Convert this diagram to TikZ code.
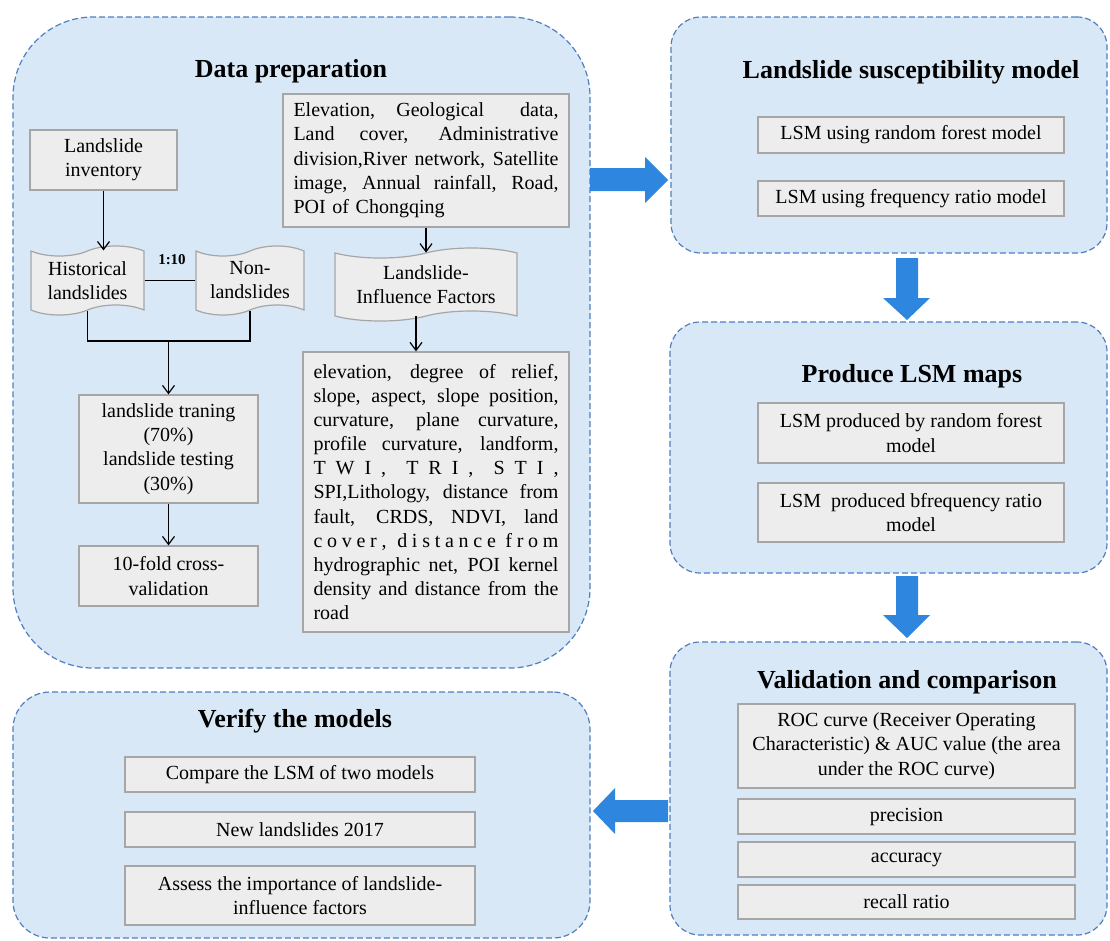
\documentclass[tikz,border=0pt]{standalone}
\usepackage{fontspec}
\setmainfont{Liberation Serif}
\usetikzlibrary{shapes.symbols,arrows.meta}
\definecolor{bigfill}{HTML}{D9E8F7}
\definecolor{bigline}{HTML}{4F7FBF}
\definecolor{boxfill}{HTML}{EDEDED}
\definecolor{boxline}{HTML}{A6A6A6}
\definecolor{barrow}{HTML}{2E86DE}
\newcommand\jline[2]{\makebox[#1][s]{\spaceskip=.25em plus 1fil\relax #2}}
\newcommand\sline[2]{\makebox[#1][s]{\spaceskip=0pt plus 1fil\relax #2}}
\tikzset{
 panel/.style={draw=bigline, fill=bigfill, line width=1.2pt, dash pattern=on 6pt off 3pt, inner sep=0pt},
 ptitle/.style={font=\fontsize{26}{30}\selectfont\bfseries, anchor=base, inner sep=0pt},
 ibox/.style={draw=boxline, fill=boxfill, line width=1.2pt, align=center, font=\fontsize{20}{24.3}\selectfont, inner sep=0pt},
 doc/.style={tape, draw=boxline, fill=boxfill, line width=1.2pt, align=center, font=\fontsize{20}{24}\selectfont, inner sep=0pt, tape bend height=10pt},
 arr/.style={-{Straight Barb[length=8pt,width=12pt]}, line width=1.2pt},
 link/.style={line width=1.6pt},
 blk/.style={fill=barrow, draw=none},
}
\begin{document}
\begin{tikzpicture}[x=1pt,y=-1pt]
\useasboundingbox (0,0) rectangle (1110,940);
\fill[white] (0,0) rectangle (1110,940);
% panels
\node[panel, rounded corners=80pt, minimum width=577pt, minimum height=651pt] (dp) at (301.5,342.5) {};
\node[panel, rounded corners=30pt, minimum width=436pt, minimum height=236pt] (lsm) at (889,135) {};
\node[panel, rounded corners=30pt, minimum width=437pt, minimum height=251pt] (prod) at (888.5,447.5) {};
\node[panel, rounded corners=30pt, minimum width=437pt, minimum height=293pt] (val) at (888.5,788.5) {};
\node[panel, rounded corners=37pt, minimum width=577pt, minimum height=246pt] (ver) at (301.5,815) {};
% titles
\node[ptitle] (tdp) at (291,77) {Data preparation};
\node[ptitle] (tlsm) at (911,78) {Landslide susceptibility model};
\node[ptitle] (tprod) at (912,382) {Produce LSM maps};
\node[ptitle] (tval) at (907,688) {Validation and comparison};
\node[ptitle] (tver) at (295,727) {Verify the models};
% data preparation content
\node[ibox, minimum width=147pt, minimum height=60pt] (inv) at (103.5,160) {Landslide\\inventory};
\node[ibox, minimum width=286pt, minimum height=133pt, text width=265pt, align=left] (elev) at (426,160.5) {%
\jline{265pt}{Elevation, Geological \ data,}\\
\jline{265pt}{Land cover, Administrative}\\
\jline{265pt}{division,River network, Satellite}\\
\jline{265pt}{image, Annual rainfall, Road,}\\
POI of Chongqing};
\node[doc, minimum width=113pt, minimum height=69pt] (hist) at (87.5,280.5) {Historical\\landslides};
\node[doc, minimum width=108pt, minimum height=69pt] (non) at (250,280.5) {Non-\\landslides};
\node[doc, minimum width=182pt, minimum height=73pt] (lif) at (426,284.5) {Landslide-\\Influence Factors};
\node[ibox, minimum width=179pt, minimum height=108pt] (train) at (168.5,449) {landslide traning\\(70\%)\\landslide testing\\(30\%)};
\node[ibox, minimum width=179pt, minimum height=60pt] (fold) at (168.5,576) {10-fold cross-\\validation};
\node[ibox, minimum width=266pt, minimum height=280pt, text width=245pt, align=left, font=\fontsize{20}{24.1}\selectfont] (fac) at (436,492) {%
\jline{245pt}{elevation, degree of relief,}\\
\jline{245pt}{slope, aspect, slope position,}\\
\jline{245pt}{curvature, plane curvature,}\\
\jline{245pt}{profile curvature, landform,}\\
\sline{245pt}{T W I , \ T R I , \ S T I ,}\\
\jline{245pt}{SPI,Lithology, distance from}\\
\jline{245pt}{fault, CRDS, NDVI, land}\\
\sline{245pt}{c o v e r , \ d i s t a n c e \ f r o m}\\
\jline{245pt}{hydrographic net, POI kernel}\\
\jline{245pt}{density and distance from the}\\
road};
\node[font=\fontsize{15}{18}\selectfont\bfseries, inner sep=0pt] (ratio) at (172,260) {1:10};
\coordinate (mj) at (168.5,341);
% connectors
\draw[arr] (inv.south) -- (inv.south |- hist.north);
\draw[link] (hist.east) -- (non.west);
\draw[link] (hist.south) |- (mj) -| (non.south);
\draw[arr] (mj) -- (train.north);
\draw[arr] (train.south) -- (fold.north);
\draw[arr] (elev.south) -- (lif.north);
\draw[arr] ([xshift=-10pt]lif.south) -- ([xshift=-10pt]lif.south |- fac.north);
% right column content
\node[ibox, minimum width=306pt, minimum height=36pt] (m1) at (911,135) {LSM using random forest model};
\node[ibox, minimum width=306pt, minimum height=35pt] (m2) at (911,198.5) {LSM using frequency ratio model};
\node[ibox, minimum width=306pt, minimum height=60pt] (p1) at (911,433) {LSM produced by random forest\\model};
\node[ibox, minimum width=306pt, minimum height=59pt] (p2) at (911,512.5) {LSM\ \ produced bfrequency ratio\\model};
\node[ibox, minimum width=337pt, minimum height=84pt] (roc) at (906.5,746) {ROC curve (Receiver Operating\\Characteristic) \& AUC value (the area\\under the ROC curve)};
\node[ibox, minimum width=337pt, minimum height=35pt] (prec) at (906.5,816.5) {precision};
\node[ibox, minimum width=337pt, minimum height=35pt] (acc) at (906.5,859.5) {accuracy};
\node[ibox, minimum width=337pt, minimum height=34pt] (rec) at (906.5,902) {recall ratio};
% verify content
\node[ibox, minimum width=350pt, minimum height=35pt] (cmp) at (300,774.5) {Compare the LSM of two models};
\node[ibox, minimum width=350pt, minimum height=35pt] (nl) at (300,829.5) {New landslides 2017};
\node[ibox, minimum width=350pt, minimum height=59pt] (ass) at (300,895.5) {Assess the importance of landslide-\\influence factors};
% block arrows
\fill[blk] (590,168) -- (645,168) -- (645,157) -- (668,180) -- (645,203) -- (645,191) -- (590,191) -- cycle;
\fill[blk] (896,258) -- (918,258) -- (918,298) -- (930,298) -- (907,320) -- (883,298) -- (896,298) -- cycle;
\fill[blk] (896,576) -- (918,576) -- (918,615) -- (930,615) -- (907,638) -- (883,615) -- (896,615) -- cycle;
\fill[blk] (668,800) -- (615,800) -- (615,788) -- (593,811) -- (615,834) -- (615,822) -- (668,822) -- cycle;
\end{tikzpicture}
\end{document}
